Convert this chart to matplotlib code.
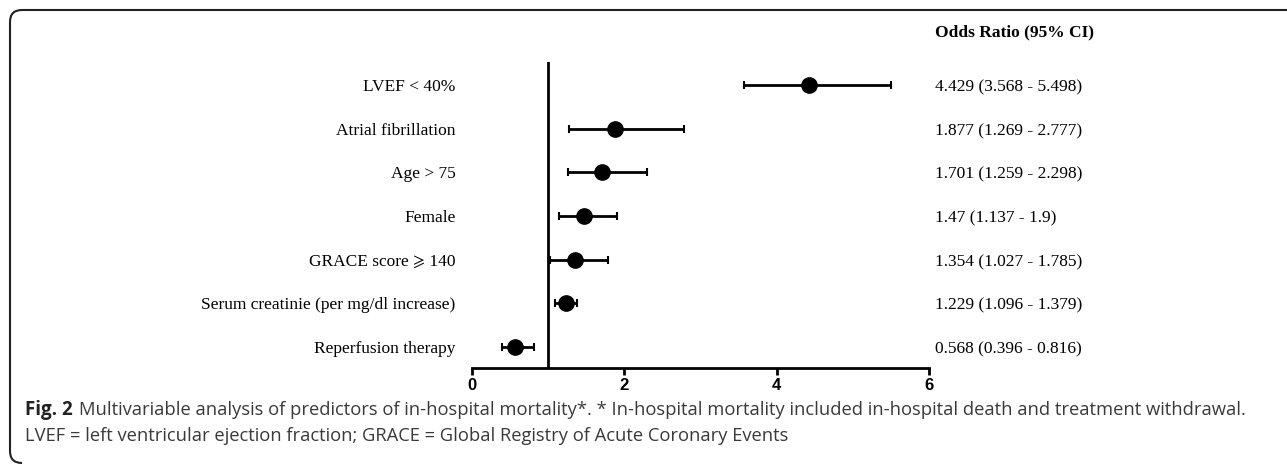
import matplotlib
matplotlib.use("Agg")
import matplotlib.pyplot as plt
from matplotlib.path import Path
from matplotlib.patches import PathPatch
from matplotlib.transforms import blended_transform_factory

# data
labels = ["LVEF < 40%", "Atrial fibrillation", "Age > 75", "Female",
          "GRACE score \u2a7e 140", "Serum creatinie (per mg/dl increase)",
          "Reperfusion therapy"]
odds = [4.429, 1.877, 1.701, 1.47, 1.354, 1.229, 0.568]
ci_low = [3.568, 1.269, 1.259, 1.137, 1.027, 1.096, 0.396]
ci_high = [5.498, 2.777, 2.298, 1.9, 1.785, 1.379, 0.816]
or_text = ["4.429 (3.568 - 5.498)", "1.877 (1.269 - 2.777)", "1.701 (1.259 - 2.298)",
           "1.47 (1.137 - 1.9)", "1.354 (1.027 - 1.785)", "1.229 (1.096 - 1.379)",
           "0.568 (0.396 - 0.816)"]
xticks = [0, 2, 4, 6]

serif = ["Liberation Serif", "STIXGeneral", "DejaVu Sans"]

W, H = 1287, 465
fig = plt.figure(figsize=(W / 100, H / 100), dpi=100)

# axes placed by pixel positions
x0, x1, ytop, ybot = 472, 929, 62, 368
ax = fig.add_axes([x0 / W, 1 - ybot / H, (x1 - x0) / W, (ybot - ytop) / H])

ypos = list(range(len(labels)))
err = [[o - l for o, l in zip(odds, ci_low)], [h - o for o, h in zip(odds, ci_high)]]
ax.errorbar(odds, ypos, xerr=err, fmt="o", color="black", ms=11,
            elinewidth=2, capsize=3, capthick=1.5, zorder=3)
ax.axvline(1, color="black", lw=2, zorder=2)

ax.set_xlim(0, 6)
ax.set_ylim(6.48, -0.53)
ax.set_xticks(xticks)
ax.set_xticklabels([str(t) for t in xticks], fontfamily="Liberation Sans",
                   fontweight="bold", fontsize=12)
ax.tick_params(axis="x", length=5, width=2, pad=2)
ax.set_yticks(ypos)
ax.set_yticklabels(labels, fontfamily=serif, fontsize=12.5)
ax.tick_params(axis="y", length=0, pad=12)
for s in ["left", "right", "top"]:
    ax.spines[s].set_visible(False)
ax.spines["bottom"].set_linewidth(2)

tr = blended_transform_factory(ax.transAxes, ax.transData)
for i, t in enumerate(or_text):
    ax.text(1.013, i + 0.05, t, transform=tr, ha="left", va="center",
            fontfamily=serif, fontsize=12.5, clip_on=False)
ax.text(1.013, -1.2, "Odds Ratio (95% CI)", transform=tr, ha="left", va="center",
        fontfamily=serif, fontweight="bold", fontsize=12.5, clip_on=False)

# caption
cap_col = "#3a3a3a"
line1 = ("Multivariable analysis of predictors of in-hospital mortality*. * In-hospital "
         "mortality included in-hospital death and treatment withdrawal.")
line2 = "LVEF = left ventricular ejection fraction; GRACE = Global Registry of Acute Coronary Events"

fig_lbl = fig.text(25 / W, 1 - 410 / H, "Fig. 2", fontfamily="Open Sans", fontweight="bold",
                   fontsize=13.5, va="center", color="#222222")
renderer = fig.canvas.get_renderer()
start = fig_lbl.get_window_extent(renderer).x1 + 6
fig.text(start / W, 1 - 410 / H, line1, fontfamily="Open Sans", fontsize=13.2,
         va="center", color=cap_col)
fig.text(25 / W, 1 - 436 / H, line2, fontfamily="Open Sans", fontsize=13.2,
         va="center", color=cap_col)

# rounded frame on top and left
r = 12
pts = [(W, 10), (10 + r, 10), (10, 10), (10, 10 + r), (10, H - 14), (10, H - 2), (10 + r, H - 2)]
codes = [Path.MOVETO, Path.LINETO, Path.CURVE3, Path.CURVE3, Path.LINETO, Path.CURVE3, Path.CURVE3]
pts = [(x / W, 1 - y / H) for x, y in pts]
fig.patches.append(PathPatch(Path(pts, codes), transform=fig.transFigure,
                             fill=False, lw=1.5, edgecolor="#222222"))

fig.savefig("out.png", dpi=100)
